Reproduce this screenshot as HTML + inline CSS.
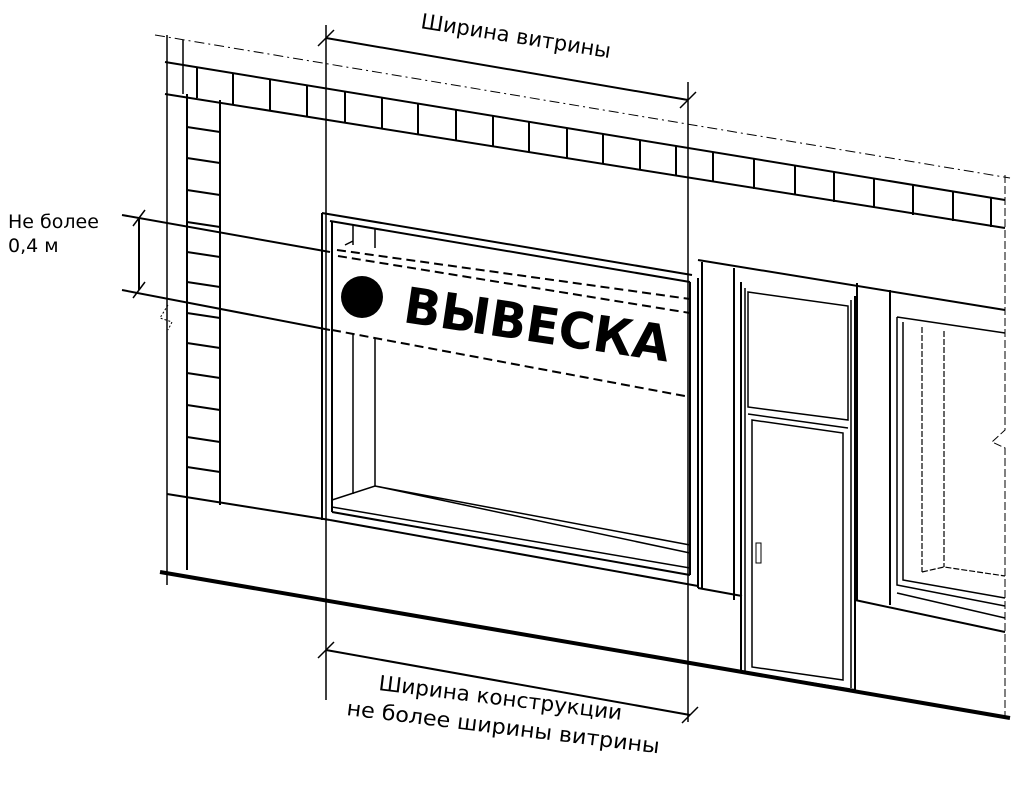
<!DOCTYPE html>
<html><head><meta charset="utf-8"><style>
html,body{margin:0;padding:0;background:#fff;}
svg{display:block;}
text{font-family:"DejaVu Sans","Liberation Sans",sans-serif;fill:#000;}
</style></head><body>
<svg width="1024" height="788" viewBox="0 0 1024 788" xmlns="http://www.w3.org/2000/svg">
<g stroke="#000" fill="none" stroke-width="2">
<path d="M155,35 L1010,178" stroke-width="1" stroke-dasharray="10,4,2,4"/>
<path d="M165,62 L1005,200"/>
<path d="M165,94 L1005,228"/>
<path d="M197,67 V98 M233,73 V104 M270,79 V110 M307,86 V116 M345,92 V122 M382,98 V128 M418,104 V134 M456,110 V140 M493,116 V146 M529,122 V152 M567,128 V158 M603,134 V164 M640,140 V170 M676,146 V176 M713,152 V182 M754,159 V189 M795,165 V195 M834,172 V202 M874,178 V208 M913,185 V215 M953,191 V221 M991,197 V227"/>
<path d="M167,35 V585" stroke-width="1.5"/>
<path d="M183,40 V94" stroke-width="1.5"/>
<path d="M187,94 V570"/>
<path d="M220,100 V505"/>
<path d="M187,127 L220,132 M187,158 L220,163 M187,190 L220,195 M187,222 L220,227 M187,252 L220,257 M187,282 L220,287 M187,313 L220,318 M187,343 L220,348 M187,373 L220,378 M187,405 L220,410 M187,437 L220,442 M187,467 L220,472"/>
<path d="M167,494 L330,520"/>
<path d="M168,305 L160,318 L172,322 L168,330" stroke-width="1" stroke-dasharray="2,2"/>
<path d="M326,25 V700" stroke-width="1.5"/>
<path d="M688,82 V722" stroke-width="1.5"/>
<path d="M326,38 L688,100"/>
<path d="M318,46 L334,30 M680,108 L696,92" stroke-width="1.5"/>
<path d="M122,215 L330,252"/>
<path d="M122,290 L330,330"/>
<path d="M139,218 V290"/>
<path d="M133,226 L145,210 M133,298 L145,282" stroke-width="1.5"/>
<path d="M322,213 L692,275 M322,213 V520"/>
<path d="M330,221 L690,282 M332,222 V512"/>
<path d="M690,282 V575 M698,278 V588"/>
<path d="M332,512 L690,575 M330,520 L698,586"/>
<path d="M332,500 L375,486 L690,545 M375,486 L690,553 M332,507 L690,568" stroke-width="1.5"/>
<path d="M353,333 V494 M375,338 V486" stroke-width="1.5"/>
<path d="M353,225 V245 M375,228 V248 M345,245 L353,241" stroke-width="1.5"/>
<path d="M337,250 L690,299" stroke-dasharray="9,5"/>
<path d="M338,256 L690,313" stroke-dasharray="9,5"/>
<path d="M332,330 L690,397" stroke-dasharray="9,5"/>
<path d="M160,572 L1010,718" stroke-width="4"/>
<path d="M326,650 L690,715"/>
<path d="M318,658 L334,642 M682,723 L698,707" stroke-width="1.5"/>
<!-- pilaster right of window -->
<path d="M698,260 L1005,310"/>
<path d="M702,262 V588 M734,268 V600"/>
<path d="M698,588 L742,596"/>
<!-- door -->
<path d="M741,282 V672 M855,296 V690"/>
<path d="M745,288 V672 M851,300 V688" stroke-width="1.5"/>
<path d="M748,292 L848,306 V420 L748,407 Z" stroke-width="1.5"/>
<path d="M748,414 L848,428" stroke-width="1.5"/>
<path d="M752,420 L843,433 V680 L752,667 Z" stroke-width="1.5"/>
<path d="M741,672 L855,690"/>
<rect x="756" y="543" width="5" height="20" stroke-width="1"/>
<!-- right pilaster & window -->
<path d="M857,283 V600 M890,290 V605"/>
<path d="M855,600 L1005,632"/>
<path d="M897,317 L1005,333 M897,317 V585 L1005,606 M903,322 V580 L1005,598" stroke-width="1.5"/>
<path d="M922,327 V572 M944,331 V567 M922,572 L944,567 L1005,576" stroke-width="1.2" stroke-dasharray="6,2"/>
<path d="M897,593 L1005,618" stroke-width="1.5"/>
<path d="M1005,175 V430 L992,442 L1005,448 V720" stroke-width="1" stroke-dasharray="8,3"/>
</g>
<circle cx="362" cy="297" r="21" fill="#000"/>
<text x="0" y="0" font-size="50" font-weight="bold" textLength="268" lengthAdjust="spacingAndGlyphs" transform="translate(402,322) rotate(8.5)">ВЫВЕСКА</text>
<text transform="translate(420,28) rotate(9)" font-size="21" textLength="192" lengthAdjust="spacingAndGlyphs">Ширина витрины</text>
<text x="8" y="228" font-size="19">Не более</text>
<text x="8" y="252" font-size="19">0,4 м</text>
<text transform="translate(378,690) rotate(7)" font-size="21" textLength="245" lengthAdjust="spacingAndGlyphs">Ширина конструкции</text>
<text transform="translate(346,715) rotate(7)" font-size="21" textLength="315" lengthAdjust="spacingAndGlyphs">не более ширины витрины</text>
</svg>
</body></html>
